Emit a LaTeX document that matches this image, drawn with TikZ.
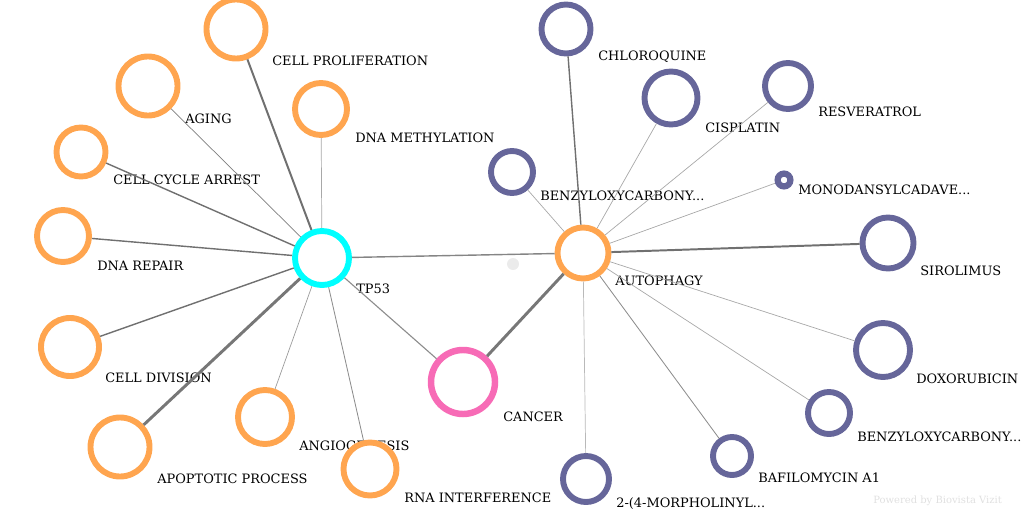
\documentclass[tikz,border=0pt]{standalone}
\usepackage{fontspec}
\setmainfont{DejaVu Serif}
\usetikzlibrary{positioning}
\definecolor{dorange}{HTML}{FFA54F}
\definecolor{dpurple}{HTML}{66669A}
\definecolor{dpink}{HTML}{F76BB6}
\definecolor{dcyan}{HTML}{00FFFF}
\definecolor{egrey}{HTML}{707070}
\definecolor{lgrey}{HTML}{A8A8A8}

\begin{document}
\begin{tikzpicture}[
    x=0.025cm, y=-0.025cm,
    ring/.style={circle, draw, line width=4.2pt, inner sep=0pt, fill=white},
    proc/.style={ring, draw=dorange},
    drug/.style={ring, draw=dpurple},
    lbl/.style={anchor=west, inner sep=0pt, text height=1.6ex, text depth=0pt, font=\fontsize{9.2}{10}\selectfont},
    wthin/.style={draw=lgrey, line width=0.5pt},
    wmid/.style={draw=egrey!80, line width=0.6pt},
    wbold/.style={draw=egrey, line width=1pt},
    wheavy/.style={draw=egrey, line width=1.4pt},
    wmax/.style={draw=egrey!95, line width=2.1pt}
]
\useasboundingbox (0,0) rectangle (1024,512);

% Labels
\node[lbl] (tp53L) at (356,288) {TP53};
\node[lbl] (cancerL) at (503,416) {CANCER};
\node[lbl] (autophagyL) at (615,280) {AUTOPHAGY};
\node[lbl] (prolifL) at (272,60) {CELL PROLIFERATION};
\node[lbl] (agingL) at (185,118) {AGING};
\node[lbl] (methylL) at (355,137) {DNA METHYLATION};
\node[lbl] (arrestL) at (113,179) {CELL CYCLE ARREST};
\node[lbl] (repairL) at (97,265) {DNA REPAIR};
\node[lbl] (divisionL) at (105,377) {CELL DIVISION};
\node[lbl] (apoptoticL) at (157,478) {APOPTOTIC PROCESS};
\node[lbl] (angioL) at (299,445) {ANGIOGENESIS};
\node[lbl] (rnaiL) at (404,497) {RNA INTERFERENCE};
\node[lbl] (chloroL) at (598,55) {CHLOROQUINE};
\node[lbl] (cisplatinL) at (705,127) {CISPLATIN};
\node[lbl] (resveraL) at (818,111) {RESVERATROL};
\node[lbl] (benzAL) at (540,195) {BENZYLOXYCARBONY...};
\node[lbl] (monodanL) at (798,189) {MONODANSYLCADAVE...};
\node[lbl] (siroL) at (920,270) {SIROLIMUS};
\node[lbl] (doxoL) at (916,378) {DOXORUBICIN};
\node[lbl] (benzBL) at (857,436) {BENZYLOXYCARBONY...};
\node[lbl] (bafiloL) at (758,477) {BAFILOMYCIN A1};
\node[lbl] (morphoL) at (616,502) {2-(4-MORPHOLINYL...};
\node[anchor=west, inner sep=0pt, text=black!12, font=\fontsize{7.1}{8}\selectfont] (credit) at (873,501) {Powered by Biovista Vizit};

% Nodes
\node[ring, draw=dcyan, minimum size=1.35cm] (tp53) at (322,258) {};
\node[ring, draw=dpink, line width=4.6pt, minimum size=1.6cm] (cancer) at (463,382) {};
\node[proc, minimum size=1.275cm] (autophagy) at (583,253) {};
\node[proc, minimum size=1.475cm] (prolif) at (236,29) {};
\node[proc, minimum size=1.475cm] (aging) at (148,86) {};
\node[proc, minimum size=1.3cm] (methyl) at (321,109) {};
\node[proc, minimum size=1.225cm] (arrest) at (81,152) {};
\node[proc, minimum size=1.3cm] (repair) at (63,236) {};
\node[proc, minimum size=1.45cm] (division) at (70,347) {};
\node[proc, minimum size=1.475cm] (apoptotic) at (120,447) {};
\node[proc, minimum size=1.35cm] (angio) at (265,417) {};
\node[proc, minimum size=1.325cm] (rnai) at (370,469) {};
\node[drug, minimum size=1.225cm] (chloro) at (566,29) {};
\node[drug, minimum size=1.325cm] (cisplatin) at (671,98) {};
\node[drug, minimum size=1.15cm] (resvera) at (788,86) {};
\node[drug, minimum size=1.05cm] (benzA) at (512,172) {};
\node[drug, line width=4.4pt, minimum size=0.32cm] (monodan) at (784,180) {};
\node[drug, minimum size=1.275cm] (siro) at (888,243) {};
\node[drug, minimum size=1.35cm] (doxo) at (883,350) {};
\node[drug, minimum size=1.05cm] (benzB) at (829,413) {};
\node[drug, minimum size=0.95cm] (bafilo) at (732,456) {};
\node[drug, minimum size=1.15cm] (morpho) at (586,479) {};
\node[circle, fill=black!8, minimum size=0.3cm, inner sep=0pt] (dot) at (513,264) {};

% Edges
\draw[wheavy] (tp53) -- (prolif);
\draw[wthin, draw=egrey!90] (tp53) -- (aging);
\draw[wthin] (tp53) -- (methyl);
\draw[wbold] (tp53) -- (arrest);
\draw[wbold] (tp53) -- (repair);
\draw[wbold] (tp53) -- (division);
\draw[wmax] (tp53) -- (apoptotic);
\draw[wthin, draw=egrey!70] (tp53) -- (angio);
\draw[wmid] (tp53) -- (rnai);
\draw[wmid, line width=0.8pt] (tp53) -- (cancer);
\draw[wbold, draw=egrey!85] (tp53) -- (autophagy);
\draw[wmax] (cancer) -- (autophagy);
\draw[wbold] (autophagy) -- (chloro);
\draw[wthin] (autophagy) -- (cisplatin);
\draw[wthin] (autophagy) -- (resvera);
\draw[wthin] (autophagy) -- (benzA);
\draw[wthin] (autophagy) -- (monodan);
\draw[wheavy] (autophagy) -- (siro);
\draw[wthin] (autophagy) -- (doxo);
\draw[wthin] (autophagy) -- (benzB);
\draw[wmid] (autophagy) -- (bafilo);
\draw[wthin, draw=lgrey!80] (autophagy) -- (morpho);
\end{tikzpicture}
\end{document}
